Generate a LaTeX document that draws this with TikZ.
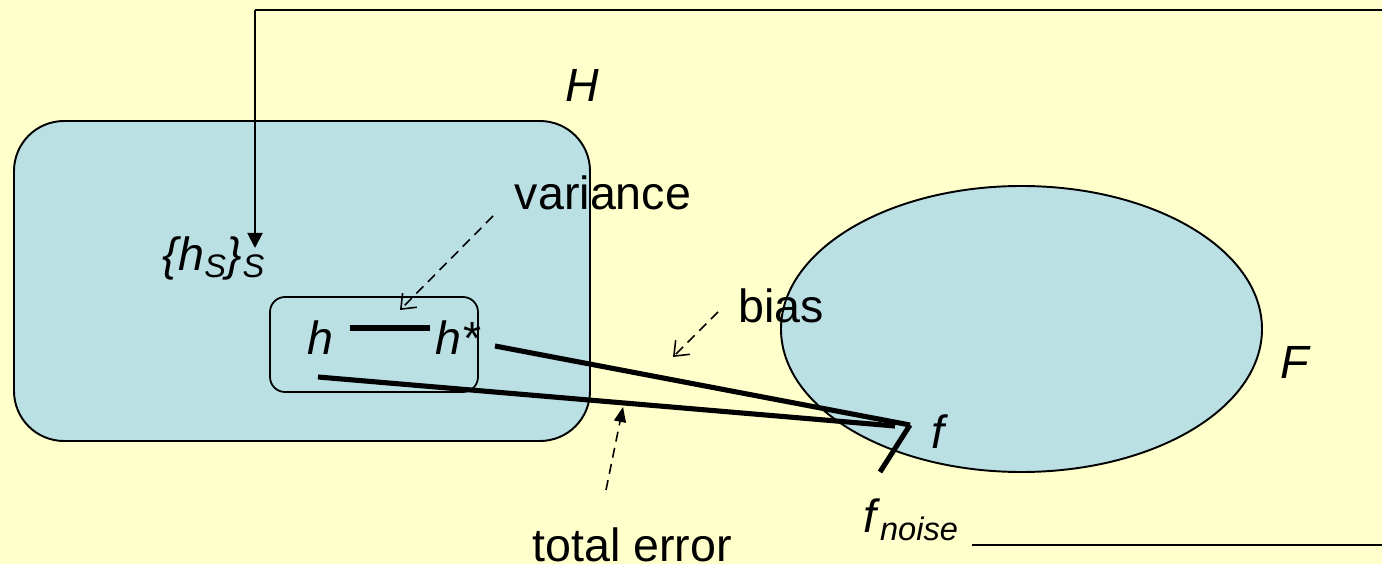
\documentclass[tikz,border=0pt]{standalone}
\usepackage{fontspec}
\setmainfont{Liberation Sans}
\usepackage{xcolor}
\usepackage{tikz}
\usetikzlibrary{arrows.meta,positioning,shapes}
\definecolor{paleyellow}{RGB}{255,255,204}
\definecolor{paleblue}{RGB}{186,224,228}
\begin{document}
\begin{tikzpicture}[
      setbox/.style={draw=black,fill=paleblue,line width=1.1pt,inner sep=0pt},
      lbl/.style={font=\fontsize{26.5}{30}\selectfont,inner sep=1pt},
      err/.style={line width=2.9pt},
      note/.style={dash pattern=on 2mm off 1.3mm,line width=0.9pt},
      frame/.style={line width=1.1pt}
    ]
      \fill[paleyellow] (0,0) rectangle (27.64,11.28);
      \useasboundingbox (0,0) rectangle (27.64,11.28);
      % Hypothesis space
      \node[setbox,rounded corners=1cm,minimum width=11.52cm,minimum height=6.4cm] (hspace) at (6.04,5.66) {};
      \node[lbl] (hname) at (11.64,9.58) {\textit{H}};
      \node[setbox,ellipse,minimum width=9.62cm,minimum height=5.72cm] (fspace) at (20.43,4.70) {};
      \node[lbl] (fname) at (25.92,4.04) {\textit{F}};
      \node[draw,line width=1pt,rounded corners=0.3cm,minimum width=4.16cm,minimum height=1.9cm] (hbox) at (7.48,4.39) {};
      % Labels
      \node[lbl] (hs) at (4.28,6.12) {\textit{\{h}\textsubscript{\textit{S}}\textit{\}}\textsubscript{\textit{S}}};
      \node[lbl] (h) at (6.40,4.52) {\textit{h}};
      \node[lbl] (hstar) at (9.16,4.52) {\textit{h*}};
      \node[lbl] (f) at (18.80,2.64) {\textit{f}};
      \node[lbl] (fnoise) at (18.22,0.88) {\textit{f}\textsubscript{\textit{noise}}};
      \node[lbl] (variance) at (12.06,7.42) {variance};
      \node[lbl] (bias) at (15.62,5.16) {bias};
      \node[lbl,inner sep=0pt,anchor=base] (total) at (12.64,0.06) {total error};
      % Sample arrow and frame
      \coordinate (tl) at (5.10,11.08);
      \coordinate (tr) at (27.64,11.08);
      \coordinate (br) at (27.64,0.38);
      \coordinate (bl) at (19.44,0.38);
      \coordinate (hsin) at (5.10,6.32);
      \draw[frame] (tr) -- (tl);
      \draw[frame,-{Triangle[length=3mm,width=3mm]}] (tl) -- (hsin);
      \draw[frame] (bl) -- (br);
      % Error segments
      \coordinate (hv1) at (7.00,4.72);
      \coordinate (hv2) at (8.60,4.72);
      \coordinate (hb) at (9.90,4.36);
      \coordinate (ht) at (6.36,3.74);
      \coordinate (fc) at (18.20,2.78);
      \coordinate (ft) at (17.90,2.76);
      \coordinate (fn) at (17.60,1.84);
      \draw[err] (hv1) -- (hv2);
      \draw[err] (hb) -- (fc);
      \draw[err] (ht) -- (ft);
      \draw[err] (fc) -- (fn);
      % Pointers
      \coordinate (va) at (9.86,6.96);
      \coordinate (vb) at (8.00,5.08);
      \coordinate (ba) at (14.36,5.04);
      \coordinate (bb) at (13.46,4.14);
      \coordinate (ta) at (12.12,1.48);
      \coordinate (tb) at (12.46,3.14);
      \draw[note,-{Straight Barb[length=2.5mm,width=4mm]}] (va) -- (vb);
      \draw[note,-{Straight Barb[length=2.5mm,width=4mm]}] (ba) -- (bb);
      \draw[note,-{Triangle[length=3mm,width=2.4mm]}] (ta) -- (tb);
    \end{tikzpicture}
\end{document}
